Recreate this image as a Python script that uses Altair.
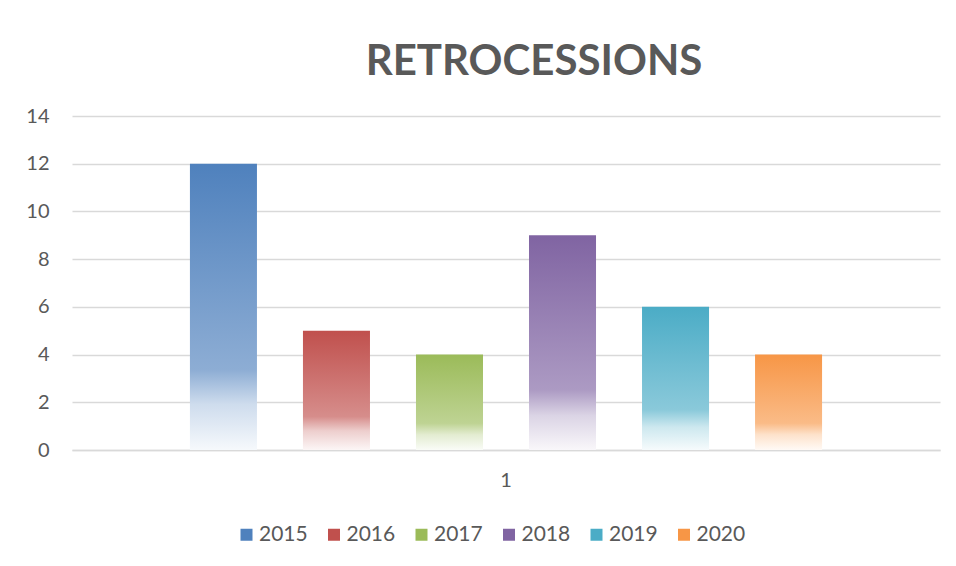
import altair as alt
import pandas as pd

categories = ["1", "1", "1", "1", "1", "1"]
years = ["2015", "2016", "2017", "2018", "2019", "2020"]
values = [12, 5, 4, 9, 6, 4]
colors = ["#4f81bd", "#c0504d", "#9bbb59", "#8064a2", "#4bacc6", "#f79646"]
y_ticks = [0, 2, 4, 6, 8, 10, 12, 14]

df = pd.DataFrame({"cat": categories, "year": years, "value": values})

TEXT = "#595959"
FONT = "Lato"


def tint(hex_color, w):
    h = hex_color.lstrip("#")
    r, g, b = (int(h[i:i + 2], 16) for i in (0, 2, 4))
    r, g, b = (round(c + (255 - c) * w) for c in (r, g, b))
    return f"#{r:02x}{g:02x}{b:02x}"


base = alt.Chart(df).encode(
    x=alt.X(
        "cat:N",
        title=None,
        scale=alt.Scale(paddingInner=0, paddingOuter=0.14),
        axis=alt.Axis(
            labelAngle=0, ticks=False, domain=True, domainColor="#d9d9d9",
            domainWidth=1.5, labelPadding=20, labelFontSize=20, labelColor=TEXT,
            labelFont=FONT, grid=False,
        ),
    ),
    xOffset=alt.XOffset(
        "year:N", scale=alt.Scale(domain=years, paddingInner=0.407, paddingOuter=0.2035)
    ),
    y=alt.Y(
        "value:Q",
        title=None,
        scale=alt.Scale(domain=[0, 14], nice=False),
        axis=alt.Axis(
            values=y_ticks, ticks=False, domain=False, labelPadding=23,
            labelFontSize=20, labelColor=TEXT, labelFont=FONT,
            gridColor="#d9d9d9", gridWidth=1.5,
        ),
    ),
)

legend_layer = base.mark_bar(opacity=0).encode(
    color=alt.Color(
        "year:N",
        scale=alt.Scale(domain=years, range=colors),
        legend=alt.Legend(
            title=None, orient="none", direction="horizontal", legendX=164,
            legendY=408, symbolType="square", symbolSize=144, symbolOpacity=1,
            labelFontSize=21, labelColor=TEXT, labelFont=FONT, labelOffset=2,
            columnPadding=15.5,
        ),
    )
)

layers = [legend_layer]
for yr, col in zip(years, colors):
    grad = alt.Gradient(
        gradient="linear",
        stops=[
            alt.GradientStop(offset=0, color=col),
            alt.GradientStop(offset=0.72, color=tint(col, 0.35)),
            alt.GradientStop(offset=0.84, color=tint(col, 0.72)),
            alt.GradientStop(offset=1, color=tint(col, 0.95)),
        ],
        x1=0, x2=0, y1=0, y2=1,
    )
    layers.append(base.transform_filter(alt.datum.year == yr).mark_bar(color=grad))

chart = alt.layer(*layers).properties(
    width=868,
    height=334,
    background="white",
    autosize=alt.AutoSizeParams(type="none"),
    padding={"left": 64, "top": 108, "right": 8, "bottom": 108},
    title=alt.TitleParams(
        "RETROCESSIONS", font=FONT, fontSize=42, fontWeight="bold", color=TEXT,
        anchor="middle", dx=28, offset=22,
    ),
).configure_view(strokeWidth=0)

chart.save("out.html", embed_options={"renderer": "svg", "actions": False})
